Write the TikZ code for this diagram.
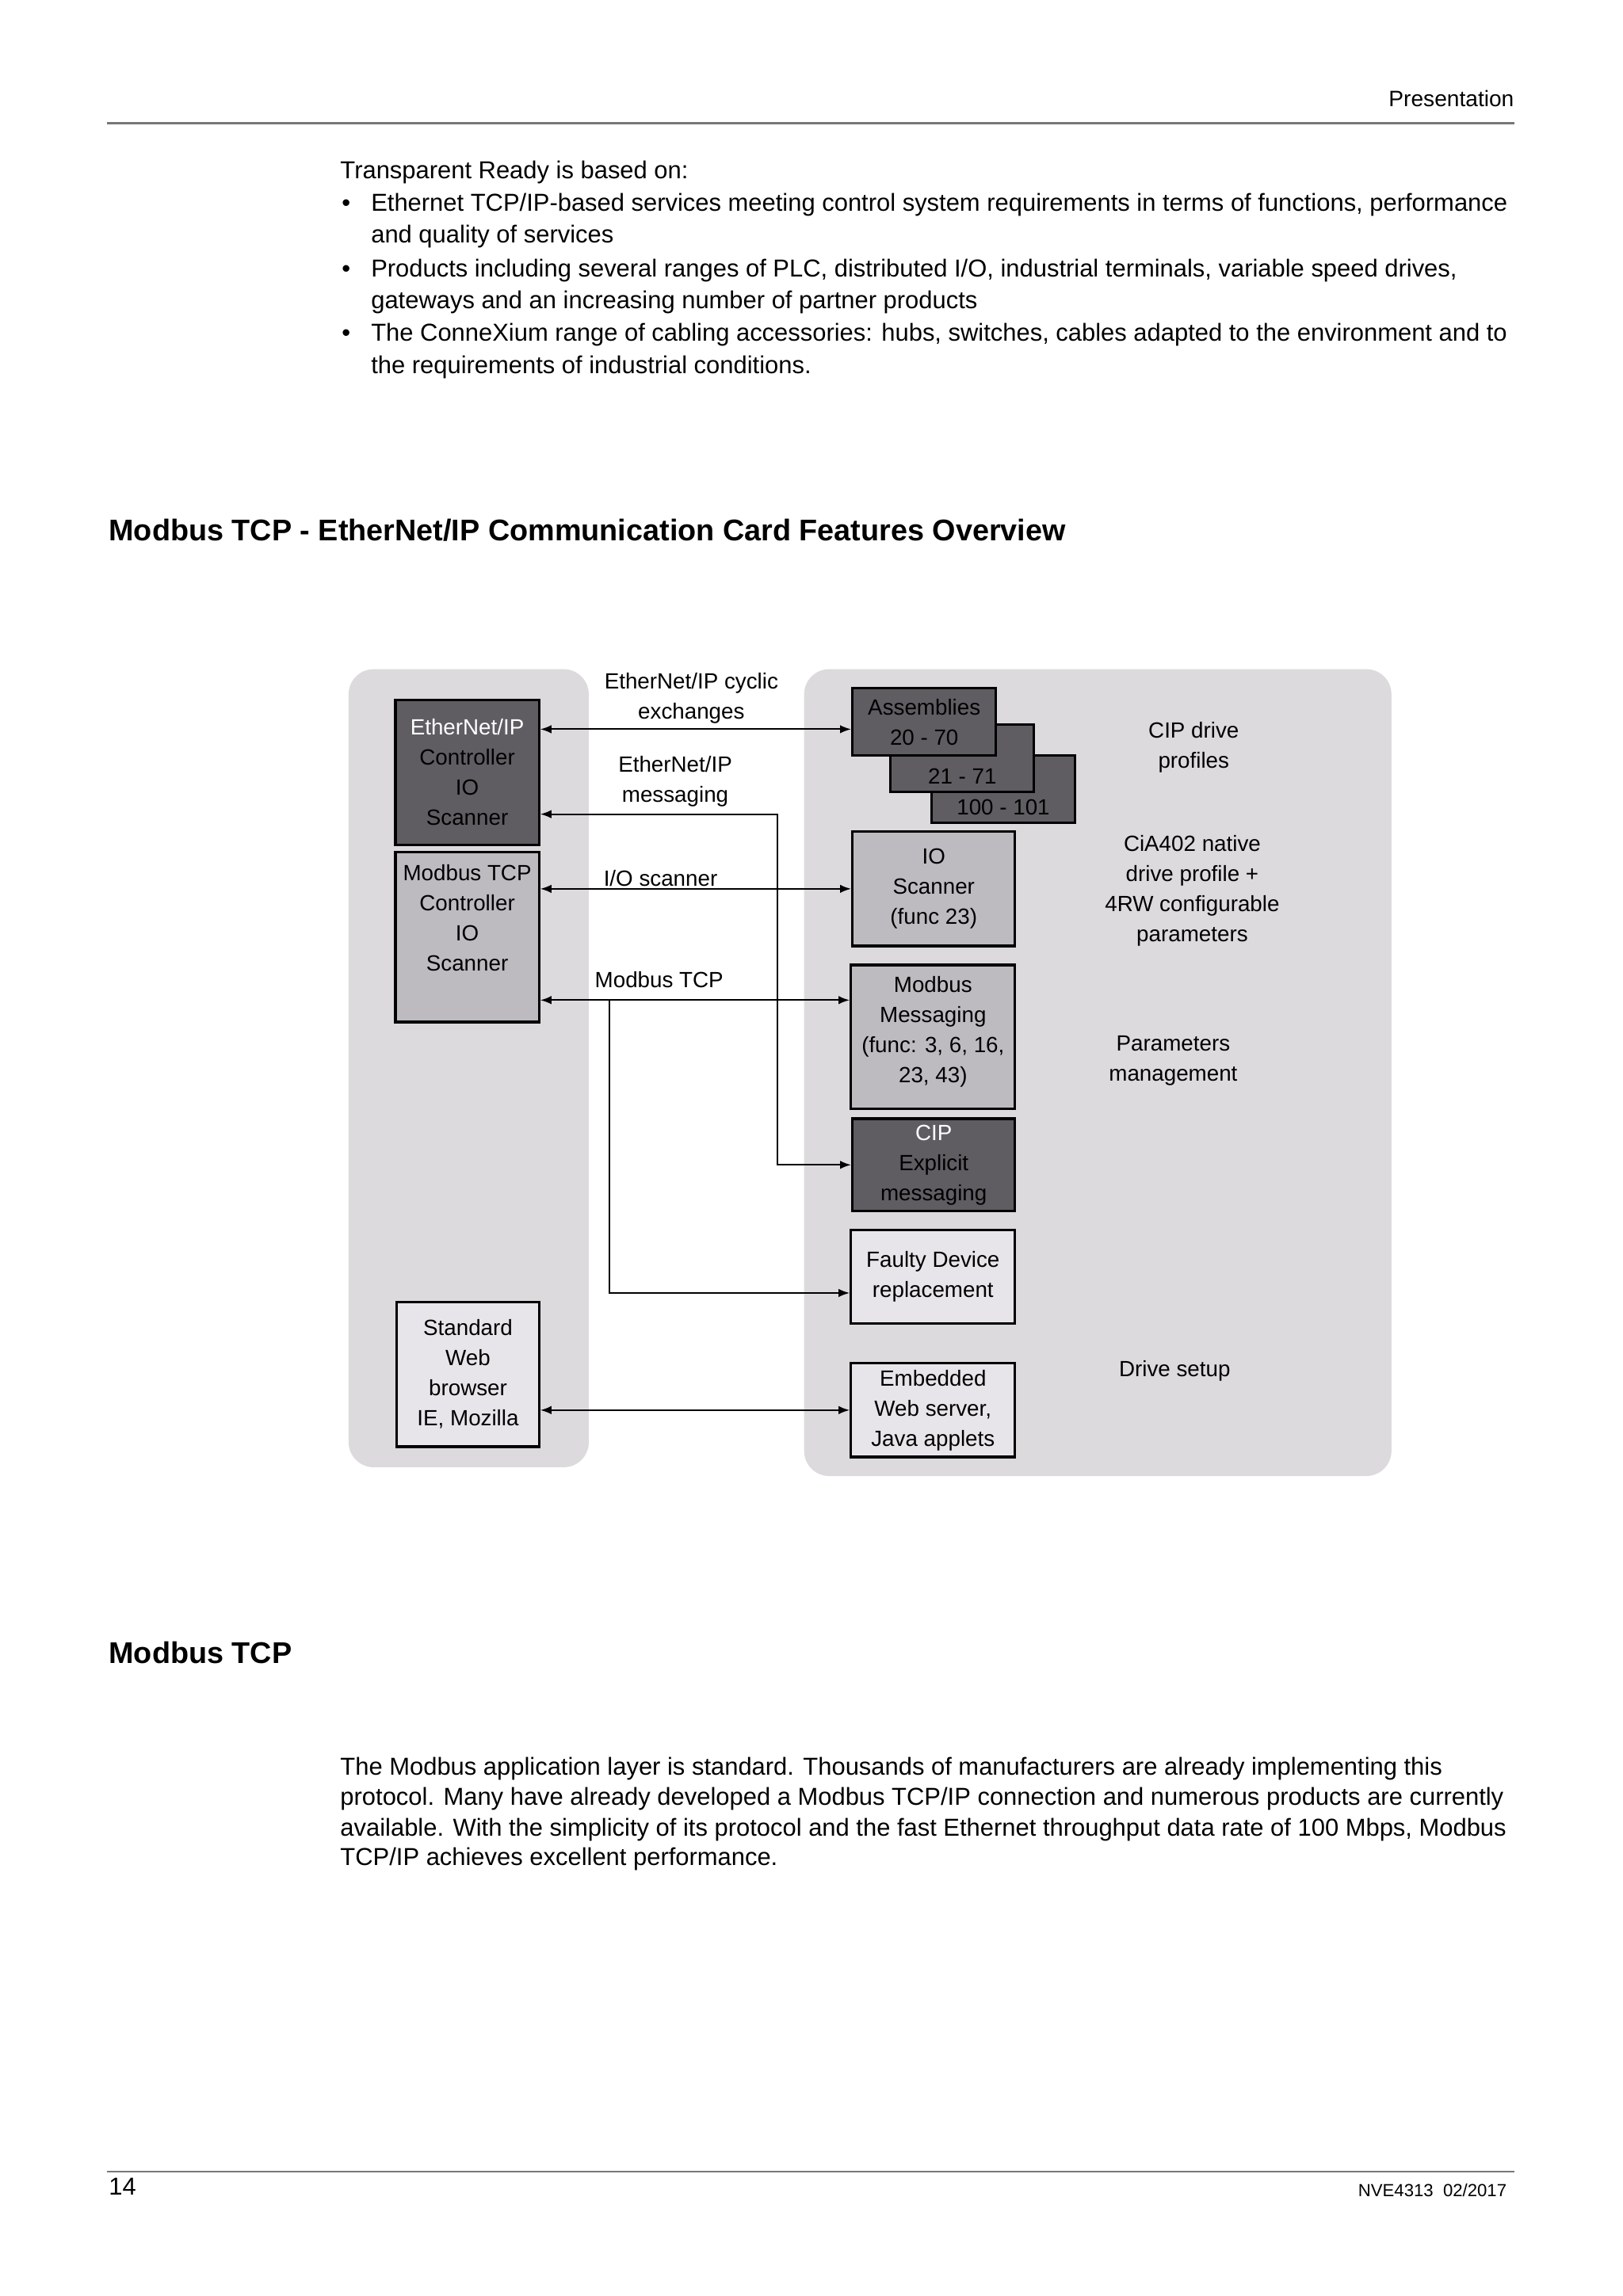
\documentclass[tikz,border=0pt]{standalone}
\usepackage{fontspec}
\setmainfont{Liberation Sans}
\usepackage{tikz}
\usetikzlibrary{arrows.meta, calc}
\definecolor{cPanel}{HTML}{DDDADE}
\definecolor{cDark}{HTML}{5F5D62}
\definecolor{cMid}{HTML}{BDBBC0}
\definecolor{cLight}{HTML}{E8E5EA}
\definecolor{cRule}{HTML}{777777}
\newcommand{\body}{\fontsize{8.8}{11.6}\selectfont}
\newcommand{\diag}{\fontsize{7.9}{10.8}\selectfont}
\tikzset{sz/.style n args={2}{minimum width=#1*0.01848cm, minimum height=#2*0.01848cm}}

\begin{document}
\begin{tikzpicture}[x=0.01848cm, y=-0.01848cm,
  panel/.style={fill=cPanel, rounded corners=9pt},
  box/.style={draw, line width=0.9pt, align=center, font=\diag, inner sep=0pt},
  dark/.style={box, fill=cDark},
  mid/.style={box, fill=cMid},
  light/.style={box, fill=cLight},
  lbl/.style={align=center, font=\diag, inner sep=0pt},
  txt/.style={anchor=base west, font=\body, inner sep=0pt},
  dbl/.style={{Latex[length=4pt,width=3pt]}-{Latex[length=4pt,width=3pt]}, line width=0.6pt},
  arr/.style={-{Latex[length=4pt,width=3pt]}, line width=0.6pt}
]
\useasboundingbox (0,0) rectangle (1108,1568);

% page header
\node[anchor=base east, font=\fontsize{8}{10}\selectfont, inner sep=0pt] (hdr) at (1034,73) {Presentation};
\draw[cRule, line width=0.8pt] (73,84) -- (1034,84);

% intro text
\node[txt] (intro) at (232,122) {Transparent Ready is based on:};
\node[txt] (b1) at (233,144) {\textbullet};
\node[txt] (t1a) at (253,144) {Ethernet TCP/IP-based services meeting control system requirements in terms of functions, performance};
\node[txt] (t1b) at (253,166) {and quality of services};
\node[txt] (b2) at (233,189) {\textbullet};
\node[txt] (t2a) at (253,189) {Products including several ranges of PLC, distributed I/O, industrial terminals, variable speed drives,};
\node[txt] (t2b) at (253,211) {gateways and an increasing number of partner products};
\node[txt] (b3) at (233,233) {\textbullet};
\node[txt] (t3a) at (253,233) {The ConneXium range of cabling accessories: hubs, switches, cables adapted to the environment and to};
\node[txt] (t3b) at (253,255) {the requirements of industrial conditions.};

\node[txt, font=\fontsize{10.75}{13}\selectfont\bfseries] (title) at (74,369)
  {Modbus TCP - EtherNet/IP Communication Card Features Overview};

% grey panels
\fill[panel] (238,457) rectangle (402,1002);
\fill[panel] (549,457) rectangle (950,1008);

% controller side
\node[dark, sz={98}{99}] (eip) at (319,527.5)
  {\textcolor{white}{EtherNet/IP}\\Controller\\IO\\Scanner};
\node[mid, sz={98}{116}] (mtcp) at (319,640)
  {Modbus TCP\\Controller\\IO\\Scanner\\\strut};
\node[light, sz={97}{99}] (web) at (319.5,938.5)
  {Standard\\Web\\browser\\IE, Mozilla};

% drive side
\node[dark, sz={98}{46}] (asm3) at (685,539) {\strut\\100 - 101};
\node[dark, sz={98}{46}] (asm2) at (657,518) {\strut\\21 - 71};
\node[dark, sz={98}{46}] (asm1) at (631,493) {Assemblies\\20 - 70};
\node[mid, sz={111}{78}] (iosc) at (637.5,607) {IO\\Scanner\\(func 23)};
\node[mid, sz={112}{98}] (mmsg) at (637,708) {Modbus\\Messaging\\(func: 3, 6, 16,\\23, 43)\\[-9pt]\strut};
\node[dark, sz={111}{63}] (cip) at (637.5,795.5) {\textcolor{white}{CIP}\\Explicit\\messaging};
\node[light, sz={112}{64}] (fdr) at (637,872) {Faulty Device\\replacement};
\node[light, sz={112}{64}] (emb) at (637,963) {Embedded\\Web server,\\Java applets};

% right hand notes
\node[lbl] (cipprof) at (815,510.5) {CIP drive\\profiles};
\node[lbl] (cia) at (814,608.5) {CiA402 native\\drive profile +\\4RW configurable\\parameters};
\node[lbl] (parm) at (801,724.5) {Parameters\\management};
\node[lbl] (setup) at (802,936) {Drive setup};

% link labels
\node[lbl] (lcyc) at (472,477) {EtherNet/IP cyclic\\exchanges};
\node[lbl] (lmsg) at (461,533.5) {EtherNet/IP\\messaging};
\node[lbl] (lios) at (451,600) {I/O scanner};
\node[lbl] (lmod) at (450,669) {Modbus TCP};

% links
\coordinate (cycrow) at (475,498);
\coordinate (msgbend) at (531,556);
\coordinate (modrow) at (416,683);
\coordinate (fdrrow) at (416,883);
\draw[dbl] (eip.east |- cycrow) -- (asm1.west |- cycrow);
\draw[dbl] (eip.east |- msgbend) -- (msgbend) |- (cip.west);
\draw[dbl] (mtcp.east |- iosc.west) -- (iosc.west);
\draw[dbl] (mtcp.east |- modrow) -- (mmsg.west |- modrow);
\draw[arr] (modrow) -- (fdrrow) -- (fdr.west |- fdrrow);
\draw[dbl] (web.east |- emb.west) -- (emb.west);

% second section
\node[txt, font=\fontsize{10.75}{13}\selectfont\bfseries] (title2) at (74,1136) {Modbus TCP};
\node[txt] (p1) at (232,1212) {The Modbus application layer is standard. Thousands of manufacturers are already implementing this};
\node[txt] (p2) at (232,1233) {protocol. Many have already developed a Modbus TCP/IP connection and numerous products are currently};
\node[txt] (p3) at (232,1254) {available. With the simplicity of its protocol and the fast Ethernet throughput data rate of 100 Mbps, Modbus};
\node[txt] (p4) at (232,1274) {TCP/IP achieves excellent performance.};

% footer
\draw[cRule, line width=0.5pt] (73,1483) -- (1034,1483);
\node[txt] (pg) at (74,1499) {14};
\node[anchor=base east, font=\fontsize{6.3}{8}\selectfont, inner sep=0pt] (ref) at (1029,1500) {NVE4313\ \ 02/2017};
\end{tikzpicture}
\end{document}
